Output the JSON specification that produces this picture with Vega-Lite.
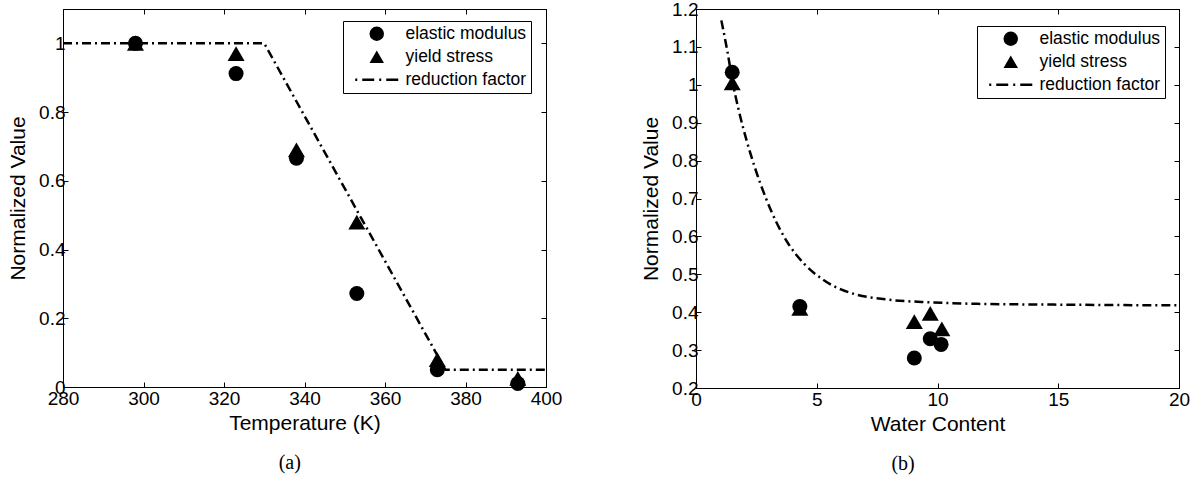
{
  "$schema": "https://vega.github.io/schema/vega-lite/v6.json",
  "padding": {"left": 7, "top": -1, "right": 0, "bottom": 0},
  "background": "white",
  "spacing": 77,
  "config": {
    "font": "Liberation Sans",
    "view": {"stroke": "black", "strokeWidth": 1},
    "axis": {
      "grid": false,
      "domainColor": "black",
      "tickColor": "black",
      "labelColor": "black",
      "titleColor": "black",
      "tickSize": -5,
      "labelFontSize": 19,
      "titleFontSize": 21,
      "titleFontWeight": "normal",
      "labelFlush": false,
      "labelPadding": 7
    },
    "axisY": {"titlePadding": 10, "labelPadding": 3},
    "axisX": {"titlePadding": 4},
    "legend": {
      "orient": "none",
      "strokeColor": "black",
      "fillColor": "white",
      "padding": 4,
      "labelFontSize": 17.5,
      "labelColor": "black",
      "labelOffset": 20,
      "symbolOffset": 21,
      "rowPadding": 3,
      "symbolSize": 210
    }
  },
  "hconcat": [
    {
      "width": 483,
      "height": 378,
      "title": {"text": "(a)", "orient": "bottom", "anchor": "middle", "frame": "bounds", "offset": 20, "dx": 5, "font": "Liberation Serif", "fontSize": 20, "fontWeight": "normal", "color": "black"},
      "layer": [
        {
          "data": {"values": [
            {"temperature": 280, "value": 1.0},
            {"temperature": 330, "value": 1.0},
            {"temperature": 375, "value": 0.05},
            {"temperature": 400, "value": 0.05}
          ]},
          "mark": {"type": "line", "color": "black", "strokeWidth": 2.5, "strokeDash": [9, 4, 2, 4], "clip": true},
          "encoding": {
            "x": {"field": "temperature", "type": "quantitative", "scale": {"domain": [280, 400]},
                  "axis": {"title": "Temperature (K)", "values": [280, 300, 320, 340, 360, 380, 400]}},
            "y": {"field": "value", "type": "quantitative", "scale": {"domain": [0, 1.1]},
                  "axis": {"title": "Normalized Value", "values": [0, 0.2, 0.4, 0.6, 0.8, 1], "format": "~g"}}
          }
        },
        {
          "data": {"values": [
            {"temperature": 298, "value": 1.0, "series": "elastic modulus"},
            {"temperature": 323, "value": 0.912, "series": "elastic modulus"},
            {"temperature": 338, "value": 0.666, "series": "elastic modulus"},
            {"temperature": 353, "value": 0.272, "series": "elastic modulus"},
            {"temperature": 373, "value": 0.05, "series": "elastic modulus"},
            {"temperature": 393, "value": 0.01, "series": "elastic modulus"},
            {"temperature": 298, "value": 1.0, "series": "yield stress"},
            {"temperature": 323, "value": 0.97, "series": "yield stress"},
            {"temperature": 338, "value": 0.69, "series": "yield stress"},
            {"temperature": 353, "value": 0.48, "series": "yield stress"},
            {"temperature": 373, "value": 0.08, "series": "yield stress"},
            {"temperature": 393, "value": 0.025, "series": "yield stress"}
          ]},
          "mark": {"type": "point", "filled": true, "opacity": 1, "color": "black"},
          "encoding": {
            "x": {"field": "temperature", "type": "quantitative", "scale": {"domain": [280, 400]},
                  "axis": {"orient": "top", "labels": false, "title": null, "values": [280, 300, 320, 340, 360, 380, 400]}},
            "y": {"field": "value", "type": "quantitative", "scale": {"domain": [0, 1.1]},
                  "axis": {"orient": "right", "labels": false, "title": null, "values": [0, 0.2, 0.4, 0.6, 0.8, 1]}},
            "shape": {"field": "series", "type": "nominal",
                      "scale": {"domain": ["elastic modulus", "yield stress", "reduction factor"],
                                "range": ["circle", "triangle-up", "M-2.97,-0.17L-2.69,-0.17L-2.69,0.17L-2.97,0.17Z M-2,-0.17L-0.35,-0.17L-0.35,0.17L-2,0.17Z M0.34,-0.17L0.62,-0.17L0.62,0.17L0.34,0.17Z M1.31,-0.17L2.97,-0.17L2.97,0.17L1.31,0.17Z"]},
                      "legend": {"title": null, "legendX": 280, "legendY": 12}},
            "size": {"condition": {"test": "datum.series === 'yield stress'", "value": 290}, "value": 225}
          }
        }
      ],
      "resolve": {"axis": {"x": "independent", "y": "independent"}}
    },
    {
      "width": 483,
      "height": 379,
      "title": {"text": "(b)", "orient": "bottom", "anchor": "middle", "frame": "bounds", "offset": 20, "dx": -12, "font": "Liberation Serif", "fontSize": 20, "fontWeight": "normal", "color": "black"},
      "layer": [
        {
          "data": {"values": [
            {"water": 1.05, "value": 1.17},
            {"water": 1.3, "value": 1.088},
            {"water": 1.54, "value": 1.0},
            {"water": 1.78, "value": 0.93},
            {"water": 2.1, "value": 0.852},
            {"water": 2.42, "value": 0.785},
            {"water": 2.9, "value": 0.7},
            {"water": 3.37, "value": 0.632},
            {"water": 3.85, "value": 0.578},
            {"water": 4.49, "value": 0.527},
            {"water": 5.28, "value": 0.485},
            {"water": 6.0, "value": 0.46},
            {"water": 6.56, "value": 0.448},
            {"water": 7.83, "value": 0.434},
            {"water": 9.74, "value": 0.426},
            {"water": 11.65, "value": 0.422},
            {"water": 14.83, "value": 0.42},
            {"water": 20, "value": 0.418}
          ]},
          "mark": {"type": "line", "color": "black", "strokeWidth": 2.5, "strokeDash": [9, 4, 2, 4], "clip": true, "interpolate": "monotone"},
          "encoding": {
            "x": {"field": "water", "type": "quantitative", "scale": {"domain": [0, 20]},
                  "axis": {"title": "Water Content", "values": [0, 5, 10, 15, 20]}},
            "y": {"field": "value", "type": "quantitative", "scale": {"domain": [0.2, 1.2]},
                  "axis": {"title": "Normalized Value", "values": [0.2, 0.3, 0.4, 0.5, 0.6, 0.7, 0.8, 0.9, 1, 1.1, 1.2], "format": "~g"}}
          }
        },
        {
          "data": {"values": [
            {"water": 1.5, "value": 1.033, "series": "elastic modulus"},
            {"water": 4.3, "value": 0.415, "series": "elastic modulus"},
            {"water": 9.04, "value": 0.279, "series": "elastic modulus"},
            {"water": 9.7, "value": 0.33, "series": "elastic modulus"},
            {"water": 10.15, "value": 0.315, "series": "elastic modulus"},
            {"water": 1.5, "value": 1.005, "series": "yield stress"},
            {"water": 4.3, "value": 0.41, "series": "yield stress"},
            {"water": 9.04, "value": 0.375, "series": "yield stress"},
            {"water": 9.7, "value": 0.397, "series": "yield stress"},
            {"water": 10.18, "value": 0.356, "series": "yield stress"}
          ]},
          "mark": {"type": "point", "filled": true, "opacity": 1, "color": "black"},
          "encoding": {
            "x": {"field": "water", "type": "quantitative", "scale": {"domain": [0, 20]},
                  "axis": {"orient": "top", "labels": false, "title": null, "values": [0, 5, 10, 15, 20]}},
            "y": {"field": "value", "type": "quantitative", "scale": {"domain": [0.2, 1.2]},
                  "axis": {"orient": "right", "labels": false, "title": null, "values": [0.2, 0.3, 0.4, 0.5, 0.6, 0.7, 0.8, 0.9, 1, 1.1, 1.2]}},
            "shape": {"field": "series", "type": "nominal",
                      "scale": {"domain": ["elastic modulus", "yield stress", "reduction factor"],
                                "range": ["circle", "triangle-up", "M-2.97,-0.17L-2.69,-0.17L-2.69,0.17L-2.97,0.17Z M-2,-0.17L-0.35,-0.17L-0.35,0.17L-2,0.17Z M0.34,-0.17L0.62,-0.17L0.62,0.17L0.34,0.17Z M1.31,-0.17L2.97,-0.17L2.97,0.17L1.31,0.17Z"]},
                      "legend": {"title": null, "legendX": 281, "legendY": 17}},
            "size": {"condition": {"test": "datum.series === 'yield stress'", "value": 290}, "value": 225}
          }
        }
      ],
      "resolve": {"axis": {"x": "independent", "y": "independent"}}
    }
  ],
  "resolve": {"scale": {"shape": "independent"}, "legend": {"shape": "independent"}}
}
